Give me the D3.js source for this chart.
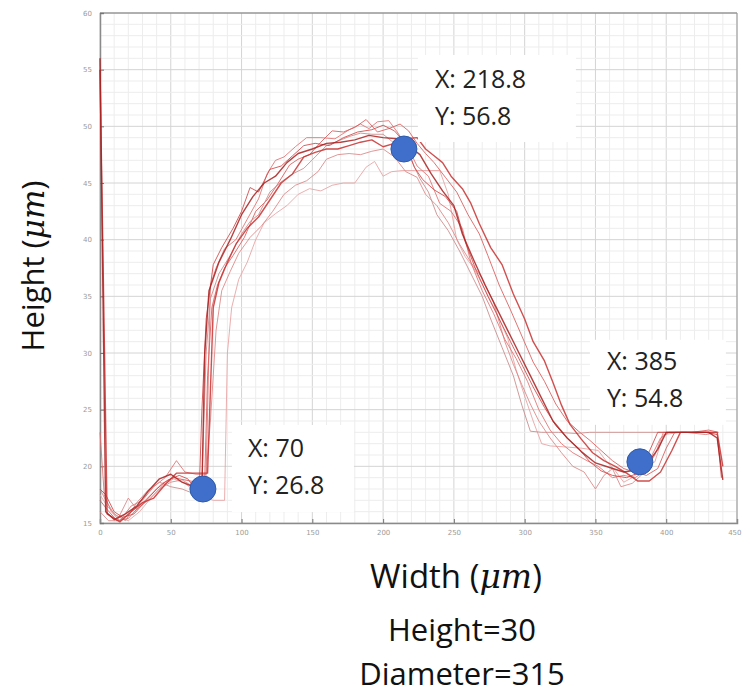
<!DOCTYPE html>
<html><head><meta charset="utf-8">
<script src="https://cdn.jsdelivr.net/npm/d3@7"></script>
<style>body{margin:0;background:#fff}svg{display:block}</style>
</head><body>
<script>
const xTicks=[0,50,100,150,200,250,300,350,400,450];
const yTicks=[15,20,25,30,35,40,45,50,55,60];
const profile1=[[0,56],[4,16],[10,15.3],[18,15.8],[26,16.5],[34,17.8],[42,18.9],[50,19.3],[58,18.6],[66,18.2],[72,18.0],[74,30],[77,35.5],[84,38],[92,40],[100,42.2],[108,43.8],[116,45],[124,45.6],[132,46.8],[140,47.6],[150,48],[160,48.5],[170,48.6],[180,48.8],[190,49.2],[200,49],[210,48.9],[219,48.2],[226,47.5],[234,45.8],[242,44.3],[250,43],[256,40.5],[264,38.2],[272,36],[280,34],[288,32],[296,30],[304,28],[312,26],[320,24],[330,22.5],[340,21.3],[350,20.3],[360,19.9],[370,19.5],[380,19.7],[386,20.1],[394,21.5],[400,23],[410,23],[420,23],[430,23],[436,22.5],[440,18.8]];
const profile2=[[0,23],[3,17.5],[8,16],[14,15.2],[22,16.5],[30,17],[38,18.2],[46,19],[54,20.5],[60,19.5],[68,19.3],[75,19.3],[78,36],[82,37.5],[88,39.2],[96,40],[104,41.8],[112,43.6],[118,45.8],[124,47],[130,47.3],[138,48.2],[146,49],[156,49],[166,48.9],[176,49.7],[184,50.2],[190,49.8],[196,50.4],[204,50.5],[210,49.5],[218,48],[224,46.5],[232,45.6],[240,43.2],[248,42.5],[256,41],[262,38],[270,35.5],[278,33.5],[286,31.2],[294,29.5],[302,27.5],[310,25],[318,23.2],[326,22],[334,21.2],[344,20.5],[352,20],[362,19],[370,19.2],[378,19],[384,19.5],[390,21],[396,22.5],[402,23],[414,23],[424,23],[432,23]];
const profile3=[[0,18],[4,17.5],[10,16],[16,15.5],[24,15.8],[32,16.9],[40,18],[48,18.8],[56,19.2],[62,18.9],[70,17.5],[72,25],[75,33],[80,37.8],[86,39.3],[94,41],[100,42.5],[106,44.6],[112,44.2],[120,46.2],[128,46.5],[136,47.4],[144,48.3],[152,48.5],[162,48.3],[172,49],[182,49.5],[192,49.7],[200,50.1],[208,49.6],[216,48.5],[222,46.4],[228,45.3],[236,44.4],[244,43.8],[252,42.5],[258,39.8],[266,37.2],[274,35],[282,33],[290,31],[298,29],[306,27],[314,25.2],[322,23.6],[330,22.5],[338,21.6],[346,20.4],[354,19.6],[362,19.2],[372,19.0],[380,19.4],[388,21.3],[394,23],[404,23],[418,23],[428,23],[436,22.8],[439,19]];
const profile4=[[0,17.5],[5,16.5],[12,15.6],[20,15.2],[28,16],[36,17.2],[44,18.3],[52,18.9],[60,18.5],[70,17.5],[80,17],[88,17],[90,30],[93,34],[98,36.5],[104,38],[110,40],[116,41.5],[124,42.3],[132,43],[140,44],[148,44.5],[156,44.3],[164,44.8],[172,45],[180,45],[188,46.4],[194,46.9],[200,45.6],[206,46],[214,46.1],[222,46.1],[232,46.1],[240,46.1],[246,44],[252,40],[258,38.5],[264,37.5],[272,35.6],[280,33.6],[288,31.3],[294,28.5],[300,26.2],[306,24],[312,22],[318,21.8],[330,21.7],[340,21.6],[352,21.4],[358,20.4],[364,19.6],[370,18.6],[376,19],[384,19.8],[392,20.4],[398,22.8],[410,23],[420,23],[430,23]];
const profile5=[[0,17],[5,16.2],[12,15.2],[20,15.4],[28,16.5],[36,17.5],[44,18.5],[52,19],[60,18.8],[68,18.6],[74,19],[76,28],[79,34],[83,36],[88,37.5],[94,38.6],[102,40.2],[110,42.5],[118,43.5],[126,45],[134,46.6],[140,47.1],[148,47.5],[156,48.6],[164,49.6],[172,49.5],[180,49.9],[188,50.6],[196,49.5],[204,49.8],[212,50.2],[218,49.6],[224,48.5],[230,47.6],[236,46.8],[244,45.5],[252,44.2],[260,42.2],[268,40.5],[274,38.6],[282,36],[290,33.8],[298,31.5],[306,29.2],[314,27.5],[322,25.5],[330,24],[338,23.1],[346,22.3],[354,21.4],[362,20.5],[370,19.8],[378,19.5],[386,19.2],[394,19.8],[400,21.6],[406,23],[418,23],[430,23.2],[437,23]];
const profile6=[[0,55],[5,15.8],[14,15.1],[22,16],[30,16.8],[38,17.2],[46,18.4],[54,19.4],[62,19.4],[70,19.4],[76,19.4],[80,34],[84,36.2],[90,38],[96,39.6],[104,41],[112,42],[120,43.5],[128,45],[136,45.8],[144,47.3],[152,47.7],[160,48],[168,48],[176,48.3],[184,48.6],[192,48.8],[200,48.2],[208,48.5],[216,48.9],[224,49],[230,48],[236,47.4],[242,46.8],[248,45.6],[256,44.5],[262,43.2],[268,41.4],[276,39.3],[284,37.8],[292,35.2],[300,33],[306,31],[314,29.3],[320,27.4],[326,25.4],[332,23.7],[340,22.4],[348,21.2],[356,20.5],[364,20],[372,19.4],[380,18.7],[388,18.7],[396,19.5],[404,21.4],[410,23],[420,23],[430,23],[436,23],[440,20]];
const profile7=[[0,18],[4,17],[10,15.8],[18,15.2],[26,16.8],[34,17.9],[42,18.6],[50,18.2],[58,18],[66,17.6],[72,18.5],[75,30],[78,34.8],[84,37],[92,38.6],[100,40.5],[106,41.6],[112,42.2],[120,44.2],[128,45.1],[136,45.8],[144,46.3],[152,47.3],[160,48.3],[168,48.7],[176,49.1],[184,49.4],[192,49.3],[200,49.3],[206,48.7],[214,48.1],[220,47],[226,45.4],[232,44.2],[238,42.2],[246,40.8],[254,39],[262,37],[270,35],[276,33],[284,30.5],[292,28],[298,25.4],[304,23.1],[312,23],[324,23],[336,22.9],[346,23],[356,23],[366,23],[378,23],[390,23],[400,23],[414,23],[428,22.8],[436,23]];
const profile8=[[0,16],[6,15.2],[12,15.2],[20,17.2],[26,16.2],[34,17],[42,18],[50,18.6],[58,18.8],[66,18.2],[74,17.8],[78,24],[82,32],[86,35.5],[92,37.2],[98,38.8],[106,40.2],[114,41.2],[122,42.5],[130,44],[138,44.8],[146,45.2],[154,46],[160,47.1],[168,47.5],[176,47.6],[184,47.5],[192,47.8],[200,48],[208,47.3],[216,46],[224,45.5],[230,44],[238,43],[246,41.5],[254,39.6],[262,38],[270,36.6],[278,34.5],[286,31],[292,29],[298,27.2],[304,25.5],[310,24],[318,22.5],[326,21.2],[334,20],[342,19.5],[350,18],[356,19.2],[362,19.8],[368,18.2],[376,18.5],[384,19.4],[392,21],[398,23],[410,23],[422,23],[434,23]];
const profiles=[profile4,profile8,profile2,profile5,profile7,profile3,profile6,profile1];
const lineColors=["#e8a0a0","#dc8585","#e07070","#d95a5a","#c98888","#d04545","#c83030","#a82020"];
const markerX=[72.7,214.7,381.4];
const markerY=[18.0,48.0,20.4];
const markerLabelX=["70","218.8","385"];
const markerLabelY=["26.8","56.8","54.8"];

const W=742,H=696;
const svg=d3.select("body").append("svg").attr("width",W).attr("height",H);
const L=100,R=737,T=13,B=523;
const x=d3.scaleLinear().domain([0,450]).range([L,R]);
const y=d3.scaleLinear().domain([15,60]).range([B,T]);

const g=svg.append("g");
g.selectAll("line.mx").data(d3.range(0,451,10)).enter().append("line")
 .attr("x1",d=>x(d)).attr("x2",d=>x(d)).attr("y1",T).attr("y2",B)
 .attr("stroke",d=>d%50===0?"#d4d4d4":"#ededed").attr("stroke-width",1);
g.selectAll("line.my").data(d3.range(15,60.01,1)).enter().append("line")
 .attr("y1",d=>y(d)).attr("y2",d=>y(d)).attr("x1",L).attr("x2",R)
 .attr("stroke",d=>d%5===0?"#d4d4d4":"#ededed").attr("stroke-width",1);

const xa=svg.append("g").attr("transform",`translate(0,${B})`)
 .call(d3.axisBottom(x).tickValues(xTicks).tickSize(-4).tickPadding(7));
const ya=svg.append("g").attr("transform",`translate(${L},0)`)
 .call(d3.axisLeft(y).tickValues(yTicks).tickSize(-4).tickPadding(8));
[xa,ya].forEach(a=>{a.select(".domain").attr("stroke","#8a8a8a").attr("stroke-width",1.5);
 a.selectAll(".tick line").attr("stroke","#777");
 a.selectAll("text").attr("fill","#9a9a9a").attr("font-size",7).attr("font-family","DejaVu Sans");});
xa.selectAll(".tick text").filter(d=>d===450).attr("text-anchor","end").attr("dx",4);
svg.append("line").attr("x1",L).attr("x2",R).attr("y1",T).attr("y2",T).attr("stroke","#777");
svg.append("line").attr("x1",R).attr("x2",R).attr("y1",T).attr("y2",B).attr("stroke","#999");

const line=d3.line().x(d=>x(d[0])).y(d=>y(d[1]));
svg.append("g").selectAll("path").data(profiles).enter().append("path")
 .attr("d",line).attr("fill","none").attr("stroke",(d,i)=>lineColors[i])
 .attr("stroke-width",(d,i)=>i>=6?1.4:1.0).attr("stroke-opacity",0.85).attr("stroke-linejoin","round");

const boxOff=[[29,-64,122,87],[14,-94,158,87],[-50,-122,136,85]];
const textOff=[[45,-32],[31,-61],[-33,-92]];
const ann=svg.append("g");
markerX.forEach((mx,i)=>{
 const px=x(mx),py=y(markerY[i]);
 ann.append("rect").attr("x",px+boxOff[i][0]).attr("y",py+boxOff[i][1])
  .attr("width",boxOff[i][2]).attr("height",boxOff[i][3]).attr("fill","#fff");
 const t=ann.append("text").attr("font-family","Open Sans").attr("font-size",25).attr("fill","#222");
 t.append("tspan").attr("x",px+textOff[i][0]).attr("y",py+textOff[i][1]).text("X: "+markerLabelX[i]);
 t.append("tspan").attr("x",px+textOff[i][0]).attr("y",py+textOff[i][1]+37).text("Y: "+markerLabelY[i]);
});
svg.append("g").selectAll("circle").data(markerX).enter().append("circle")
 .attr("cx",d=>x(d)).attr("cy",(d,i)=>y(markerY[i])).attr("r",13)
 .attr("fill","#3f6fcb").attr("stroke","#2f5aa8").attr("stroke-width",1);

const yl=svg.append("text").attr("transform","translate(44,266) rotate(-90)")
 .attr("text-anchor","middle").attr("font-family","Open Sans").attr("font-size",31).attr("fill","#111");
yl.append("tspan").text("Height (");
yl.append("tspan").attr("font-family","DejaVu Serif").attr("font-style","italic").text("μm");
yl.append("tspan").text(")");
const xl=svg.append("text").attr("x",456).attr("y",588)
 .attr("text-anchor","middle").attr("font-family","Open Sans").attr("font-size",33).attr("fill","#111");
xl.append("tspan").text("Width (");
xl.append("tspan").attr("font-family","DejaVu Serif").attr("font-style","italic").text("μm");
xl.append("tspan").text(")");
svg.append("text").attr("x",462).attr("y",641).attr("text-anchor","middle")
 .attr("font-family","Open Sans").attr("font-size",31).attr("fill","#111").text("Height=30");
svg.append("text").attr("x",462).attr("y",685).attr("text-anchor","middle")
 .attr("font-family","Open Sans").attr("font-size",31).attr("fill","#111").text("Diameter=315");
</script>
</body></html>
